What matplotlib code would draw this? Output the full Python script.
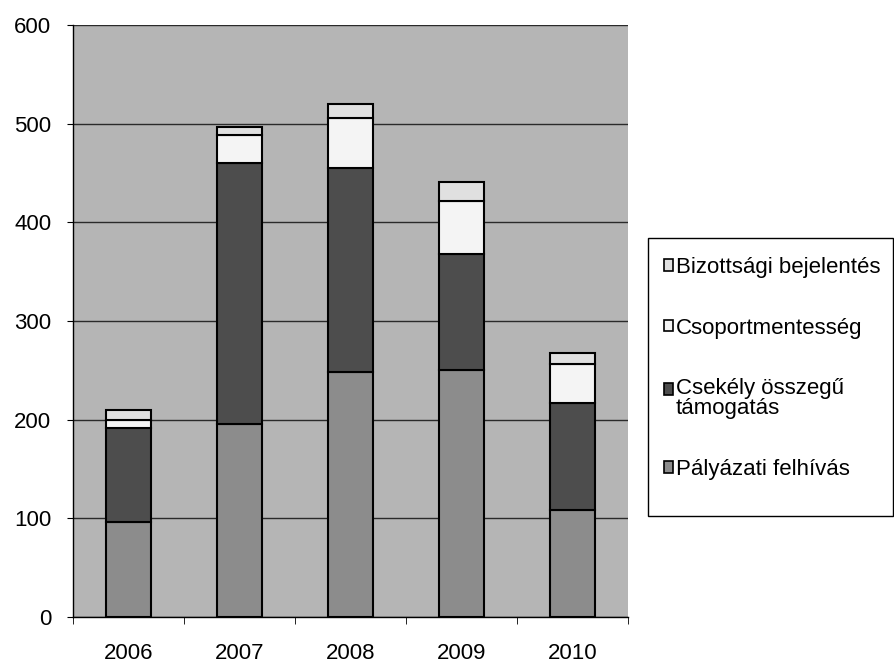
import matplotlib.pyplot as plt
from matplotlib.patches import Rectangle
import numpy as np

plt.rcParams['font.family'] = ['Liberation Sans', 'DejaVu Sans']

# Data
years = ['2006', '2007', '2008', '2009', '2010']
palyazati = [96, 196, 248, 250, 108]
csekely = [96, 264, 207, 118, 109]
csoport = [8, 29, 51, 54, 39]
bizottsagi = [10, 8, 14, 19, 12]

series = [
    ('Pályázati felhívás', palyazati, '#8c8c8c'),
    ('Csekély összegű\ntámogatás', csekely, '#4d4d4d'),
    ('Csoportmentesség', csoport, '#f4f4f4'),
    ('Bizottsági bejelentés', bizottsagi, '#e0e0e0'),
]

W, H = 895, 664
fig = plt.figure(figsize=(W / 100, H / 100), dpi=100)
ax = fig.add_axes([73 / W, 47 / H, 555 / W, 592 / H])
ax.set_facecolor('#b5b5b5')

x = np.arange(len(years))
bottom = np.zeros(len(years))
handles = []
for label, vals, color in series:
    h = ax.bar(x, vals, width=0.4, bottom=bottom, color=color,
               edgecolor='black', linewidth=1.5, label=label, zorder=3)
    handles.append(h)
    bottom += np.array(vals)

ax.set_xlim(-0.5, len(years) - 0.5)
ax.set_ylim(0, 600)
ax.set_yticks(range(0, 601, 100))
ax.yaxis.grid(True, color='#2a2a2a', linewidth=1, zorder=1)
ax.set_axisbelow(True)

ax.set_xticks(x)
ax.set_xticklabels(years)
ax.set_xticks(np.arange(-0.5, len(years)), minor=True)
ax.tick_params(axis='x', which='major', length=0, pad=19, labelsize=16)
ax.tick_params(axis='x', which='minor', length=5, direction='out', color='black')
ax.tick_params(axis='y', length=4.5, direction='out', labelsize=16, pad=11)

for s in ['top', 'right']:
    ax.spines[s].set_visible(False)
for s in ['left', 'bottom']:
    ax.spines[s].set_color('black')
    ax.spines[s].set_linewidth(1)

# legend box drawn as a frame, entries via legend
fig.patches.append(Rectangle((648 / W, 1 - 516 / H), 245 / W, 278 / H,
                             transform=fig.transFigure, facecolor='white',
                             edgecolor='black', linewidth=1, zorder=0))
leg = fig.legend(handles=handles[::-1], labels=[s[0] for s in series][::-1],
                 loc='upper left', bbox_to_anchor=(664 / W, 1 - 257 / H),
                 fontsize=16, frameon=False,
                 handlelength=0.42, handleheight=0.42, handletextpad=0.12,
                 labelspacing=1.78, borderpad=0, borderaxespad=0)
for t in leg.get_texts():
    t.set_linespacing(0.95)
for p in leg.get_patches():
    p.set_linewidth(1.2)
# two-line entry: handle sits on the first line
two = leg.get_patches()[2]
two.set_y(two.get_y() + 7)

fig.savefig('out.png', dpi=100, facecolor='white')
